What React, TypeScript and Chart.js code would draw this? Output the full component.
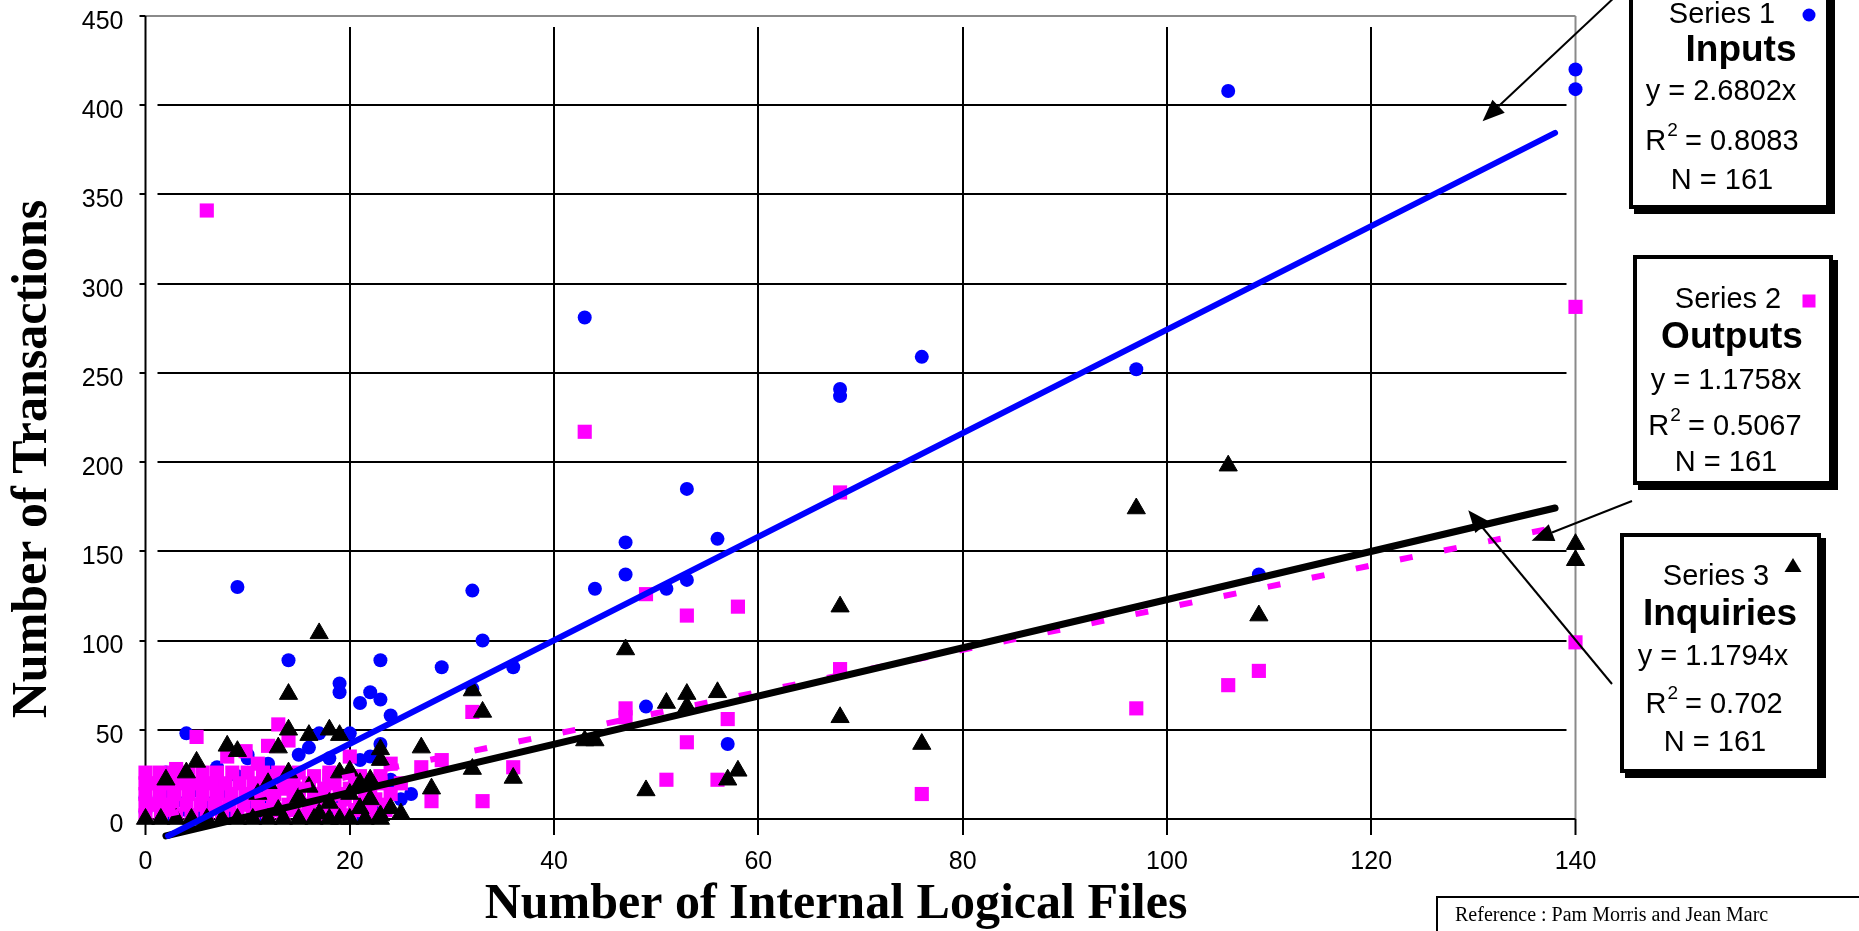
import React, { useEffect, useRef } from "react";
import { Chart, registerables } from "chart.js";

Chart.register(...registerables);

// ---------- data ----------
const inputsX = [140, 140, 106, 97, 76, 68, 68, 43, 53, 47, 47, 44, 56, 53, 51, 49, 57, 109, 9, 14, 23, 29, 33, 32, 36, 19, 19, 22, 21, 23, 24, 4, 17, 20, 23, 10, 15, 12, 18, 22, 2, 16, 21, 25, 18, 7, 32, 24, 10,
  0, 0, 1, 1, 2, 2, 3, 3, 4, 5, 5, 6, 7, 8, 8, 9, 10, 11, 11, 12, 13, 14, 15, 16, 17, 18, 19, 20, 21, 22, 23, 24, 26];
const inputsY = [420, 409, 408, 252, 259, 241, 237, 281, 185, 155, 137, 129, 157, 134, 129, 63, 42, 137, 130, 89, 89, 85, 100, 128, 85, 76, 71, 71, 65, 67, 58, 48, 48, 48, 42, 36, 36, 31, 34, 35, 26, 40, 33, 11, 5, 29, 73, 22, 34,
  4, 12, 20, 8, 2, 15, 10, 22, 5, 16, 1, 9, 20, 4, 14, 24, 8, 2, 18, 12, 24, 6, 16, 2, 12, 22, 8, 16, 2, 12, 6, 18, 14];

const outputsX = [140, 140, 106, 109, 97, 76, 68, 68, 43, 58, 53, 49, 47, 47, 57, 53, 51, 56, 32, 36, 33, 29, 6, 13, 5, 12, 14, 8, 20, 24, 27, 28, 25,
  0, 1.5, 3, 4.5, 6, 7.5, 9, 10.5, 12, 13.5, 15.5, 17, 20, 22,
  0, 1.3, 2.6, 4, 5.4, 6.8, 8.2, 9.6, 11, 12.5, 14, 16, 18, 21, 23.5,
  0, 1.4, 2.8, 4.2, 5.6, 7, 8.4, 9.8, 11.2, 12.6, 14.5, 16.5, 19, 21.5, 24,
  0, 1.3, 2.6, 3.9, 5.2, 6.5, 7.8, 9.2, 10.6, 12, 13.8, 16, 18.5, 20.5, 23,
  0, 1.4, 2.8, 4.2, 5.6, 7, 8.5, 10, 11.5, 13, 15, 18, 9.8, 3, 11,
  11.5, 13, 14.5, 16, 17.5, 19, 20.5, 22, 23.5,
  11, 12.5, 15, 17, 19.5, 22.5,
  11.8, 13.5, 15, 17.5, 20, 22,
  12.5, 14.5, 16.5, 18, 21, 23];
const outputsY = [287, 99, 75, 83, 62, 14, 183, 84, 217, 119, 114, 126, 62, 57, 56, 43, 22, 22, 60, 29, 10, 33, 341, 53, 46, 41, 44, 35, 35, 31, 29, 10, 20,
  2, 2, 2, 2, 2, 2, 2, 2, 2, 2, 2, 2, 2, 2,
  8, 8, 8, 8, 8, 8, 8, 8, 8, 8, 8, 8, 8, 8, 8,
  14, 14, 14, 14, 14, 14, 14, 14, 14, 14, 14, 14, 14, 14, 14,
  20, 20, 20, 20, 20, 20, 20, 20, 20, 20, 20, 20, 20, 20, 20,
  26, 26, 26, 26, 26, 26, 26, 26, 26, 26, 26, 26, 38, 28, 31,
  5, 5, 5, 5, 5, 5, 5, 5, 5,
  11, 11, 11, 11, 11, 11,
  17, 17, 17, 17, 17, 17,
  24, 24, 24, 24, 24, 24];

const inquiriesX = [140, 140, 106, 97, 109, 68, 68, 76, 47, 17, 14, 32, 33, 36, 27, 28, 44, 43, 49, 51, 53, 56, 57, 58, 53, 32, 18, 19, 16, 14, 8, 9, 13, 5, 23, 23, 19, 21, 20, 24, 25, 19, 2, 4,
  0, 1.5, 3, 4.5, 6, 7.5, 9, 10.5, 12, 13.5, 15, 16.5, 18, 20, 21.5, 23,
  11, 13, 15, 17, 18, 20, 21, 22, 23, 16, 12, 14, 22];
const inquiriesY = [154, 145, 198, 174, 114, 119, 57, 42, 95, 104, 70, 72, 60, 23, 40, 17, 44, 44, 16, 65, 70, 71, 22, 27, 63, 28, 50, 47, 47, 50, 41, 38, 40, 32, 39, 33, 26, 20, 27, 6, 3, 0, 22, 26,
  0, 0, 0, 0, 0, 0, 0, 0, 0, 0, 0, 0, 0, 0, 0, 0,
  14, 5, 12, 3, 9, 14, 6, 11, 2, 18, 20, 26, 22];

// trend lines (end points)
const inputsTrendX = [2.2, 138];
const inputsTrendY = [-9.5, 384.5];
const outputsTrendX = [2, 137.7];
const outputsTrendY = [2.6, 163];
const inquiriesTrendX = [2, 138];
const inquiriesTrendY = [-9.5, 174.3];

// axes
const xTicks = [0, 20, 40, 60, 80, 100, 120, 140];
const yTicks = [0, 50, 100, 150, 200, 250, 300, 350, 400, 450];
const xTitle = "Number of Internal Logical Files";
const yTitle = "Number of Transactions";

// legend text boxes
const seriesLabels = ["Series 1", "Series 2", "Series 3"];
const seriesNames = ["Inputs", "Outputs", "Inquiries"];
const equations = ["y = 2.6802x", "y = 1.1758x", "y = 1.1794x"];
const rSquared = ["0.8083", "0.5067", "0.702"];
const counts = ["N = 161", "N = 161", "N = 161"];
// arrow tips in data units
const arrowTipX = [130.9, 135.7, 129.5];
const arrowTipY = [391, 156, 173];
const referenceText = "Reference : Pam Morris and Jean Marc";

const BLUE = "#0000ff";
const PINK = "#ff00ff";

const pts = (xs: number[], ys: number[]) => xs.map((x, i) => ({ x, y: ys[i] }));

const SANS = '"Liberation Sans", Arial, sans-serif';
const SERIF = '"Liberation Serif", "Times New Roman", serif';

export default function App() {
  const ref = useRef<HTMLCanvasElement>(null);

  useEffect(() => {
    const canvas = ref.current!;

    const line = (ctx: CanvasRenderingContext2D, x0: number, y0: number, x1: number, y1: number) => {
      ctx.beginPath();
      ctx.moveTo(x0, y0);
      ctx.lineTo(x1, y1);
      ctx.stroke();
    };

    const framePlugin = {
      id: "frame",
      beforeDatasetsDraw(chart: any) {
        const { ctx, chartArea: a, scales } = chart;
        const xs = scales.x;
        const ys = scales.y;
        ctx.save();
        ctx.lineWidth = 2;
        ctx.strokeStyle = "#000";
        yTicks.forEach((v) => {
          if (v === 0 || v === 450) return;
          const y = Math.round(ys.getPixelForValue(v));
          line(ctx, a.left + 12, y, a.right - 9, y);
        });
        xTicks.forEach((v) => {
          if (v === 0 || v === 140) return;
          const x = Math.round(xs.getPixelForValue(v));
          line(ctx, x, a.top + 11, x, a.bottom + 16);
        });
        ctx.strokeStyle = "#8a8a8a";
        line(ctx, a.left, a.top, a.right, a.top);
        line(ctx, a.right, a.top, a.right, a.bottom);
        ctx.strokeStyle = "#000";
        line(ctx, a.left, a.top, a.left, a.bottom + 16);
        line(ctx, a.left - 6, a.bottom, a.right, a.bottom);
        yTicks.forEach((v) => {
          const y = Math.round(ys.getPixelForValue(v));
          line(ctx, a.left - 6, y, a.left, y);
        });
        line(ctx, a.right, a.bottom, a.right, a.bottom + 16);
        ctx.restore();
      },
    };

    const boxes = [
      { box: [1629, -10, 201, 219], s: [1722, 15], n: [1741, 51], e: [1721, 92], r: [1722, 140], c: [1722, 181], m: [1809, 15] },
      { box: [1633, 255, 200, 230], s: [1728, 300], n: [1732, 338], e: [1726, 381], r: [1725, 425], c: [1726, 463], m: [1809, 301] },
      { box: [1620, 533, 201, 240], s: [1716, 577], n: [1720, 615], e: [1713, 657], r: [1714, 703], c: [1715, 743], m: [1793, 566] },
    ];
    const tails = [[1617, -5], [1632, 501], [1612, 684]];

    const annotPlugin = {
      id: "annot",
      afterDraw(chart: any) {
        const { ctx, scales } = chart;
        ctx.save();
        ctx.fillStyle = "#000";
        // axis titles
        ctx.font = `bold 50px ${SERIF}`;
        ctx.textAlign = "center";
        ctx.textBaseline = "middle";
        ctx.fillText(xTitle, 836, 905);
        ctx.save();
        ctx.translate(33, 459);
        ctx.rotate(-Math.PI / 2);
        ctx.fillText(yTitle, 0, 0);
        ctx.restore();

        // arrows
        ctx.strokeStyle = "#000";
        ctx.lineWidth = 2;
        for (let i = 0; i < 3; i++) {
          const tx = scales.x.getPixelForValue(arrowTipX[i]);
          const ty = scales.y.getPixelForValue(arrowTipY[i]);
          const [sx, sy] = tails[i];
          const ang = Math.atan2(ty - sy, tx - sx);
          const L = 22, Wd = 9;
          const bx = tx - L * Math.cos(ang), by = ty - L * Math.sin(ang);
          line(ctx, sx, sy, bx, by);
          ctx.beginPath();
          ctx.moveTo(tx, ty);
          ctx.lineTo(bx + Wd * Math.sin(ang), by - Wd * Math.cos(ang));
          ctx.lineTo(bx - Wd * Math.sin(ang), by + Wd * Math.cos(ang));
          ctx.closePath();
          ctx.fill();
        }

        // legend boxes
        boxes.forEach((b, i) => {
          const [x, y, w, h] = b.box;
          ctx.fillStyle = "#000";
          ctx.fillRect(x + 5, y + 5, w, h);
          ctx.fillRect(x, y, w, h);
          ctx.fillStyle = "#fff";
          ctx.fillRect(x + 4, y + 4, w - 8, h - 8);
          ctx.fillStyle = "#000";
          ctx.textAlign = "center";
          ctx.textBaseline = "middle";
          ctx.font = `29px ${SANS}`;
          ctx.fillText(seriesLabels[i], b.s[0], b.s[1]);
          ctx.fillText(equations[i], b.e[0], b.e[1]);
          ctx.fillText(counts[i], b.c[0], b.c[1]);
          ctx.font = `bold 37px ${SANS}`;
          ctx.fillText(seriesNames[i], b.n[0], b.n[1]);
          // R² line
          ctx.font = `29px ${SANS}`;
          const wR = ctx.measureText("R").width;
          const rest = " = " + rSquared[i];
          const wRest = ctx.measureText(rest).width;
          ctx.font = `19px ${SANS}`;
          const w2 = ctx.measureText("2").width;
          const total = wR + w2 + wRest;
          let px = b.r[0] - total / 2;
          const base = b.r[1] + 10;
          ctx.textAlign = "left";
          ctx.textBaseline = "alphabetic";
          ctx.font = `29px ${SANS}`;
          ctx.fillText("R", px, base);
          px += wR;
          ctx.font = `19px ${SANS}`;
          ctx.fillText("2", px + 1, base - 14);
          px += w2;
          ctx.font = `29px ${SANS}`;
          ctx.fillText(rest, px, base);
          // marker
          const [mx, my] = b.m;
          if (i === 0) {
            ctx.fillStyle = BLUE;
            ctx.beginPath();
            ctx.arc(mx, my, 6.5, 0, Math.PI * 2);
            ctx.fill();
          } else if (i === 1) {
            ctx.fillStyle = PINK;
            ctx.fillRect(mx - 6.5, my - 6.5, 13, 13);
          } else {
            ctx.fillStyle = "#000";
            ctx.beginPath();
            ctx.moveTo(mx, my - 8);
            ctx.lineTo(mx + 8.5, my + 6);
            ctx.lineTo(mx - 8.5, my + 6);
            ctx.closePath();
            ctx.fill();
          }
        });

        // reference box
        ctx.strokeStyle = "#000";
        ctx.lineWidth = 2;
        ctx.strokeRect(1437, 897, 440, 60);
        ctx.fillStyle = "#000";
        ctx.font = `20px ${SERIF}`;
        ctx.textAlign = "left";
        ctx.textBaseline = "alphabetic";
        ctx.fillText(referenceText, 1455, 921);
        ctx.restore();
      },
    };

    const chart = new Chart(canvas, {
      type: "scatter",
      data: {
        datasets: [
          {
            label: "Inputs trend",
            data: pts(inputsTrendX, inputsTrendY),
            showLine: true,
            borderColor: BLUE,
            borderWidth: 6,
            borderCapStyle: "round",
            pointRadius: 0,
            clip: false,
            order: 0,
          },
          {
            label: "Inquiries trend",
            data: pts(inquiriesTrendX, inquiriesTrendY),
            showLine: true,
            borderColor: "#000",
            borderWidth: 7,
            borderCapStyle: "round",
            pointRadius: 0,
            clip: false,
            order: 1,
          },
          {
            label: "Outputs trend",
            data: pts(outputsTrendX, outputsTrendY),
            showLine: true,
            borderColor: PINK,
            borderWidth: 6,
            borderDash: [13, 32],
            pointRadius: 0,
            clip: false,
            order: 2,
          },
          {
            label: "Inquiries",
            data: pts(inquiriesX, inquiriesY),
            pointStyle: "triangle",
            pointRadius: 10.5,
            backgroundColor: "#000",
            borderColor: "#000",
            borderWidth: 1,
            clip: false,
            order: 3,
          },
          {
            label: "Outputs",
            data: pts(outputsX, outputsY),
            pointStyle: "rect",
            pointRadius: 10,
            backgroundColor: PINK,
            borderWidth: 0,
            clip: false,
            order: 4,
          },
          {
            label: "Inputs",
            data: pts(inputsX, inputsY),
            pointStyle: "circle",
            pointRadius: 7,
            backgroundColor: BLUE,
            borderWidth: 0,
            clip: false,
            order: 5,
          },
        ] as any,
      },
      options: {
        responsive: false,
        animation: false,
        devicePixelRatio: 1,
        events: [],
        layout: { padding: { left: 0, top: 16, right: 283.5, bottom: 0 } },
        plugins: { legend: { display: false }, tooltip: { enabled: false } },
        scales: {
          x: {
            type: "linear",
            min: 0,
            max: 140,
            grid: { display: false, drawTicks: false },
            border: { display: false },
            ticks: {
              stepSize: 20,
              autoSkip: false,
              maxRotation: 0,
              padding: 28,
              color: "#000",
              font: { family: SANS, size: 25 },
            },
            afterFit: (s: any) => {
              s.height = 112;
              s.paddingLeft = 0;
              s.paddingRight = 0;
            },
          },
          y: {
            type: "linear",
            min: 0,
            max: 450,
            grid: { display: false, drawTicks: false },
            border: { display: false },
            ticks: {
              stepSize: 50,
              padding: 22,
              labelOffset: 6,
              color: "#000",
              font: { family: SANS, size: 25 },
            },
            afterFit: (s: any) => {
              s.width = 145.5;
              s.paddingTop = 0;
              s.paddingBottom = 0;
            },
          },
        },
      } as any,
      plugins: [framePlugin, annotPlugin],
    });

    return () => chart.destroy();
  }, []);

  return (
    <div style={{ position: "fixed", left: 0, top: 0, width: 1859, height: 931, background: "#fff" }}>
      <canvas ref={ref} width={1859} height={931} style={{ display: "block" }} />
    </div>
  );
}
